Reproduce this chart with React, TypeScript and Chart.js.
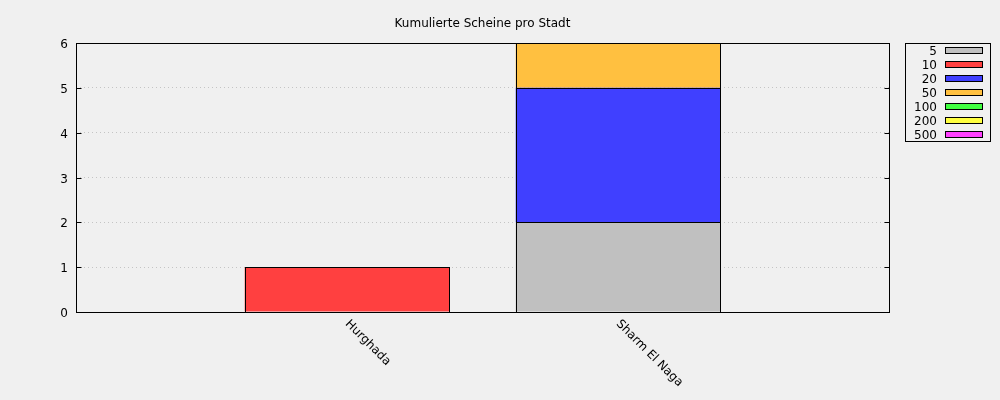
import React, { useEffect, useRef } from "react";
import { Chart, registerables } from "chart.js";

Chart.register(...registerables);

const title = "Kumulierte Scheine pro Stadt";
const categories = ["", "Hurghada", "Sharm El Naga", ""];
const denominations = ["5", "10", "20", "50", "100", "200", "500"];
const seriesColors = ["#c0c0c0", "#ff4040", "#4040ff", "#ffc040", "#40ff40", "#ffff40", "#ff40ff"];
const values5 = [null, null, 2, null];
const values10 = [null, 1, null, null];
const values20 = [null, null, 3, null];
const values50 = [null, null, 1, null];
const values100 = [null, null, null, null];
const values200 = [null, null, null, null];
const values500 = [null, null, null, null];
const seriesValues = [values5, values10, values20, values50, values100, values200, values500];
const yMin = 0;
const yMax = 6;
const yStep = 1;

const FONT = "'DejaVu Sans', sans-serif";

const decorPlugin = {
  id: "decor",
  beforeDraw(chart: any) {
    const ctx = chart.ctx;
    ctx.save();
    ctx.fillStyle = "#f0f0f0";
    ctx.fillRect(0, 0, chart.width, chart.height);
    ctx.restore();
  },
  afterDraw(chart: any) {
    const ctx = chart.ctx;
    const a = chart.chartArea;
    const xs = chart.scales.x;
    const ys = chart.scales.y;
    ctx.save();
    ctx.strokeStyle = "#000";
    ctx.lineWidth = 1;
    // bar outlines, pixel aligned, from the library's bar elements
    chart.data.datasets.forEach((ds: any, di: number) => {
      const meta = chart.getDatasetMeta(di);
      meta.data.forEach((el: any, i: number) => {
        if (ds.data[i] == null) return;
        const p = el.getProps(["x", "y", "base", "width"], true);
        const x0 = Math.round(p.x - p.width / 2) + 0.5;
        const x1 = Math.round(p.x + p.width / 2) + 0.5;
        const y0 = Math.round(Math.min(p.y, p.base)) + 0.5;
        const y1 = Math.round(Math.max(p.y, p.base)) + 0.5;
        ctx.strokeRect(x0, y0, x1 - x0, y1 - y0);
      });
    });
    // title
    ctx.fillStyle = "#000";
    ctx.font = `12px ${FONT}`;
    ctx.textAlign = "center";
    ctx.textBaseline = "middle";
    ctx.fillText(title, (a.left + a.right) / 2, 23.5);
    // frame
    const L = Math.round(a.left) + 0.5;
    const R = Math.round(a.right) + 0.5;
    const T = Math.round(a.top) + 0.5;
    const B = Math.round(a.bottom) + 0.5;
    ctx.strokeRect(L, T, R - L, B - T);
    // inward y ticks and labels
    ctx.beginPath();
    ctx.textAlign = "right";
    ys.ticks.forEach((t: any) => {
      const py = Math.round(ys.getPixelForValue(t.value)) + 0.5;
      ctx.moveTo(L, py);
      ctx.lineTo(L + 5, py);
      ctx.moveTo(R, py);
      ctx.lineTo(R - 5, py);
      ctx.fillText(String(t.label), L - 8.5, py + 1.5);
    });
    ctx.stroke();
    // rotated x labels
    ctx.textAlign = "left";
    ctx.textBaseline = "middle";
    categories.forEach((c, i) => {
      if (!c) return;
      const px = xs.getPixelForValue(i);
      ctx.save();
      ctx.translate(px, a.bottom + 10);
      ctx.rotate(Math.PI / 4);
      ctx.fillText(c, 0, 0);
      ctx.restore();
    });
    // legend
    const bx = 905.5, by = 43.5, bw = 85, bh = 98;
    ctx.strokeRect(bx, by, bw, bh);
    denominations.forEach((d, i) => {
      const cy = 50.5 + 14 * i;
      ctx.fillStyle = "#000";
      ctx.textAlign = "right";
      ctx.textBaseline = "middle";
      ctx.fillText(d, 937, cy + 1);
      ctx.fillStyle = seriesColors[i];
      ctx.fillRect(945.5, cy - 3, 37, 6);
      ctx.strokeRect(945.5, cy - 3, 37, 6);
    });
    ctx.restore();
  },
};

export default function App() {
  const ref = useRef<HTMLCanvasElement>(null);
  useEffect(() => {
    document.body.style.margin = "0";
    document.body.style.background = "#f0f0f0";
    const chart = new Chart(ref.current as HTMLCanvasElement, {
      type: "bar",
      data: {
        labels: categories,
        datasets: denominations.map((d, i) => ({
          label: d,
          data: seriesValues[i] as any,
          backgroundColor: seriesColors[i],
          borderWidth: 0,
          barPercentage: 0.755,
          categoryPercentage: 1,
        })),
      },
      options: {
        responsive: false,
        animation: false,
        layout: { padding: { top: 43, right: 111, bottom: 0, left: 8 } },
        plugins: { legend: { display: false }, title: { display: false }, tooltip: { enabled: false } },
        scales: {
          x: {
            type: "category",
            stacked: true,
            offset: false,
            grid: { display: false },
            border: { display: false },
            ticks: { display: false },
            afterFit: (s: any) => {
              s.height = 88;
            },
          },
          y: {
            stacked: true,
            min: yMin,
            max: yMax,
            ticks: { stepSize: yStep, display: false },
            grid: {
              drawTicks: false,
              lineWidth: 1,
              color: (c: any) =>
                c.tick && (c.tick.value === yMin || c.tick.value === yMax) ? "rgba(0,0,0,0)" : "#c4c4c4",
            },
            border: { display: false, dash: [1, 3] },
            afterFit: (s: any) => {
              s.width = 68;
            },
          },
        },
      },
      plugins: [decorPlugin],
    } as any);
    return () => chart.destroy();
  }, []);
  return (
    <div style={{ position: "absolute", left: 0, top: 0, width: 1000, height: 400 }}>
      <canvas ref={ref} width={1000} height={400} />
    </div>
  );
}
